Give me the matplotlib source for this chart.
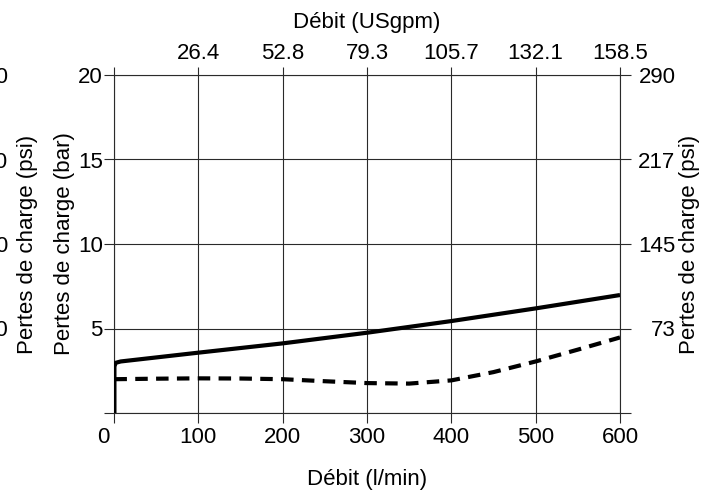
import matplotlib
matplotlib.use("Agg")
import matplotlib.pyplot as plt
from matplotlib.transforms import ScaledTranslation

plt.rcParams['font.family'] = ['Liberation Sans', 'DejaVu Sans']

# courbes de pertes de charge (bar) en fonction du debit (l/min)
debit_plein = [0.5, 0.5, 2, 8, 100, 200, 300, 400, 500, 600]
perte_plein = [0, 2.75, 2.97, 3.05, 3.57, 4.12, 4.75, 5.44, 6.19, 6.98]

debit_tirets = [0.5, 50, 100, 150, 200, 250, 300, 350, 400, 450, 500, 550, 600]
perte_tirets = [2.0, 2.03, 2.05, 2.04, 2.0, 1.88, 1.77, 1.74, 1.93, 2.42, 3.05, 3.75, 4.47]

ticks_lmin = [0, 100, 200, 300, 400, 500, 600]
labels_lmin = ['0', '100', '200', '300', '400', '500', '600']
labels_gpm = ['', '26.4', '52.8', '79.3', '105.7', '132.1', '158.5']
ticks_bar = [0, 5, 10, 15, 20]
labels_bar = ['', '5', '10', '15', '20']
labels_psi = ['', '73', '145', '217', '290']
labels_psi_g = ['', '70', '150', '220', '290']

fs = 16
gris = '#2a2a2a'

fig = plt.figure(figsize=(7.18, 4.96), dpi=100)
ax = fig.add_axes([114/718, 83/496, 506/718, 338/496])

ax.plot(debit_plein, perte_plein, color='black', lw=3, solid_joinstyle='round', solid_capstyle='butt', zorder=5)
ax.plot(debit_tirets, perte_tirets, color='black', lw=3, dashes=(3, 2), zorder=5)

ax.set_xlim(0, 600)
ax.set_ylim(0, 20)
ax.set_xticks(ticks_lmin)
ax.set_xticklabels(labels_lmin)
ax.set_yticks(ticks_bar)
ax.set_yticklabels(labels_bar)
ax.grid(True, color=gris, lw=0.8)
ax.tick_params(direction='out', length=7, width=0.8, color=gris, labelsize=fs)
ax.tick_params(axis='x', pad=3)
ax.tick_params(axis='y', pad=1)
for s in ax.spines.values():
    s.set_color(gris)
    s.set_linewidth(0.8)
ax.set_xlabel('Débit (l/min)', fontsize=fs)
ax.xaxis.set_label_coords(0.5, -0.166)
ax.set_ylabel('Pertes de charge (bar)', fontsize=fs)
ax.yaxis.set_label_coords(-0.077, 0.5)

# decaler le "0"
lbl0 = ax.get_xticklabels()[0]
lbl0.set_transform(lbl0.get_transform() + ScaledTranslation(-11/100, 0, fig.dpi_scale_trans))

# axe du haut (USgpm)
axh = ax.twiny()
axh.set_xlim(0, 600)
axh.set_xticks(ticks_lmin)
axh.set_xticklabels(labels_gpm)
axh.tick_params(direction='out', length=6, width=0.8, color=gris, labelsize=fs, pad=2)
axh.set_xlabel('Débit (USgpm)', fontsize=fs)
axh.xaxis.set_label_coords(0.5, 1.138)
for s in axh.spines.values():
    s.set_visible(False)

# axe de droite (psi)
axd = ax.twinx()
axd.set_ylim(0, 20)
axd.set_yticks(ticks_bar)
axd.set_yticklabels(labels_psi)
axd.tick_params(direction='out', length=8, width=0.8, color=gris, labelsize=fs, pad=32)
for t in axd.get_yticklabels():
    t.set_horizontalalignment('right')
axd.set_ylabel('Pertes de charge (psi)', fontsize=fs)
axd.yaxis.set_label_coords(1.117, 0.5)
for s in axd.spines.values():
    s.set_visible(False)

# axe de gauche (psi), coupe par le bord
axg = ax.twinx()
axg.set_ylim(0, 20)
axg.yaxis.set_ticks_position('left')
axg.yaxis.set_label_position('left')
axg.set_yticks(ticks_bar)
axg.set_yticklabels(labels_psi_g)
axg.tick_params(length=0, labelsize=fs, pad=76)
axg.set_ylabel('Pertes de charge (psi)', fontsize=fs)
axg.yaxis.set_label_coords(-0.150, 0.5)
for s in axg.spines.values():
    s.set_visible(False)

fig.savefig('out.png', dpi=100)
